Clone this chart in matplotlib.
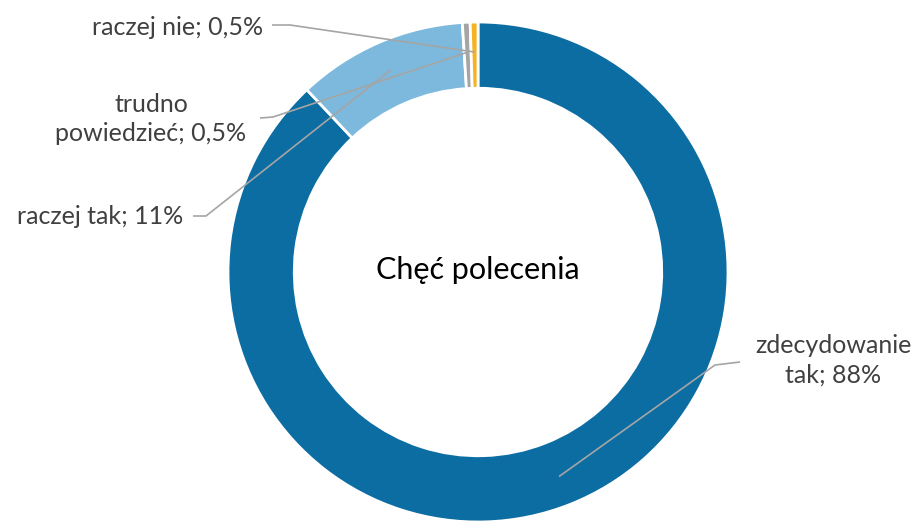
import matplotlib.pyplot as plt
import numpy as np

plt.rcParams['font.family'] = ['Lato', 'DejaVu Sans']

# data
categories = ['zdecydowanie tak', 'raczej tak', 'trudno powiedzieć', 'raczej nie']
shares = [88, 11, 0.5, 0.5]
labels = ['zdecydowanie\ntak; 88%', 'raczej tak; 11%', 'trudno\npowiedzieć; 0,5%', 'raczej nie; 0,5%']
colors = ['#0C6DA3', '#7DB8DD', '#A5A5A5', '#F5B324']
title = 'Chęć polecenia'

# label text positions (x, y, ha) and leader stub ends, in pie-radius units
label_pos = [(1.42, -0.355, 'center'), (-1.18, 0.224, 'right'),
             (-1.308, 0.612, 'center'), (-0.86, 0.98, 'right')]
stub = [((1.048, -0.36), (0.948, -0.372)), ((-1.14, 0.224), (-1.088, 0.224)),
        ((-0.872, 0.616), (-0.82, 0.62)), ((-0.824, 0.988), (-0.752, 0.988))]

fig = plt.figure(figsize=(9.16, 5.28), dpi=100)
ax = fig.add_axes([0, 0, 1, 1])

wedges, _ = ax.pie(shares, colors=colors, startangle=90, counterclock=False,
                   radius=1, wedgeprops=dict(width=0.265, edgecolor='white', linewidth=2))

ax.set_xlim(-478 / 250, (916 - 478) / 250)
ax.set_ylim(-(528 - 272) / 250, 272 / 250)
ax.set_aspect('equal')
ax.axis('off')

txt_color = '#404040'
line_color = '#A5A5A5'
for w, lab, (tx, ty, ha), (s0, s1) in zip(wedges, labels, label_pos, stub):
    ang = np.deg2rad((w.theta1 + w.theta2) / 2)
    px, py = 0.88 * np.cos(ang), 0.88 * np.sin(ang)
    ax.plot([s0[0], s1[0], px], [s0[1], s1[1], py], color=line_color, lw=1.2,
            solid_capstyle='butt', zorder=3)
    ax.text(tx, ty, lab, ha=ha, va='center', multialignment='center',
            fontsize=18, color=txt_color, linespacing=1.35)

ax.text(0, 0.01, title, ha='center', va='center', fontsize=22, color='#000000')

fig.savefig('out.png', dpi=100)
